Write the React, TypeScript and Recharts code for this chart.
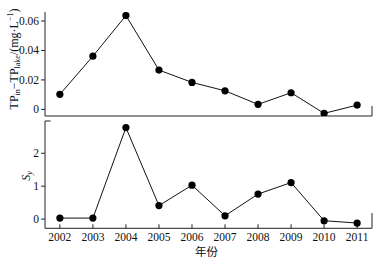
import React from 'react';
import { LineChart, Line, XAxis, YAxis, ReferenceLine } from 'recharts';

const years = [2002, 2003, 2004, 2005, 2006, 2007, 2008, 2009, 2010, 2011];
const tpDiff = [0.0102, 0.0361, 0.0637, 0.0267, 0.0183, 0.0126, 0.0034, 0.0113, -0.0027, 0.0029];
const sy = [0.03, 0.03, 2.78, 0.41, 1.03, 0.1, 0.76, 1.11, -0.05, -0.12];
const topTicks = [0, 0.02, 0.04, 0.06];
const bottomTicks = [0, 1, 2];
const xLabel = '年份';

const topData = years.map((y, i) => ({ year: y, v: tpDiff[i] }));
const bottomData = years.map((y, i) => ({ year: y, v: sy[i] }));

const FONT = '"Liberation Serif", "Times New Roman", serif';
const AX = '#222';
const xDomain: [number, number] = [2001.55, 2011.45];

const fmtTop = (v: number) => (v === 0 ? '0' : v.toFixed(2));

const YTick = (props: any) => {
  const { x, y, payload, fmt } = props;
  return (
    <text x={x} y={y} textAnchor="end" dominantBaseline="central" fontFamily={FONT} fontSize={11.5} fill="#111">
      {fmt ? fmt(payload.value) : String(payload.value)}
    </text>
  );
};

const XTick = (props: any) => {
  const { x, payload } = props;
  return (
    <text x={x} y={125} textAnchor="middle" fontFamily={FONT} fontSize={11.5} fill="#111">
      {String(payload.value)}
    </text>
  );
};

const TopLabel = () => (
  <text
    transform="translate(14,59) rotate(-90)"
    textAnchor="middle"
    dominantBaseline="central"
    fontFamily={FONT}
    fontSize={12}
    fill="#111"
  >
    TP<tspan dy={3} fontSize={8}>in</tspan>
    <tspan dy={-3}>−TP</tspan>
    <tspan dy={3} fontSize={8}>lake</tspan>
    <tspan dy={-3}>/(mg·L</tspan>
    <tspan dy={-4} fontSize={8}>−1</tspan>
    <tspan dy={4}>)</tspan>
  </text>
);

const BottomLabel = () => (
  <text
    transform="translate(26,60) rotate(-90)"
    textAnchor="middle"
    dominantBaseline="central"
    fontFamily={FONT}
    fontSize={12}
    fill="#111"
  >
    <tspan fontStyle="italic">S</tspan>
    <tspan dy={3} fontSize={8} fontStyle="italic">y</tspan>
  </text>
);

export default function App() {
  return (
    <div style={{ position: 'absolute', left: 0, top: 0, width: 382, height: 261, background: '#fff', fontFamily: FONT }}>
      <div style={{ position: 'absolute', left: 0, top: 0 }}>
        <LineChart width={382} height={120} data={topData} margin={{ top: 12, right: 10, left: 0, bottom: 0 }}>
          <XAxis
            dataKey="year"
            type="number"
            domain={xDomain}
            ticks={years}
            interval={0}
            allowDataOverflow
            height={4}
            tick={false}
            tickSize={-4}
            stroke={AX}
          />
          <YAxis
            type="number"
            domain={[-0.0045, 0.0661]}
            ticks={topTicks}
            interval={0}
            allowDataOverflow
            width={45}
            tickSize={4}
            tickMargin={2}
            stroke={AX}
            tick={<YTick fmt={fmtTop} />}
            label={<TopLabel />}
          />
          <ReferenceLine
            segment={[{ x: 2011.45, y: -0.0045 }, { x: 2011.45, y: 0.0023 }]}
            stroke={AX}
            ifOverflow="visible"
          />
          <Line
            dataKey="v"
            stroke="#111"
            strokeWidth={1}
            dot={{ r: 3.6, fill: '#000', stroke: '#000', strokeWidth: 0 }}
            isAnimationActive={false}
          />
        </LineChart>
      </div>
      <div style={{ position: 'absolute', left: 0, top: 116 }}>
        <LineChart width={382} height={145} data={bottomData} margin={{ top: 5, right: 10, left: 0, bottom: 4.7 }}>
          <XAxis
            dataKey="year"
            type="number"
            domain={xDomain}
            ticks={years}
            interval={0}
            allowDataOverflow
            height={28}
            tickSize={-4}
            tickMargin={8}
            stroke={AX}
            tick={<XTick />}
            label={{
              value: xLabel,
              position: 'insideBottom',
              offset: 0,
              dx: -2,
              style: { fontFamily: '"Noto Sans CJK SC", sans-serif', fontSize: 11.5, fill: '#111' },
            }}
          />
          <YAxis
            type="number"
            domain={[-0.28, 2.98]}
            ticks={bottomTicks}
            interval={0}
            allowDataOverflow
            width={45}
            tickSize={4}
            tickMargin={2}
            stroke={AX}
            tick={<YTick />}
            label={<BottomLabel />}
          />
          <ReferenceLine
            segment={[{ x: 2011.45, y: -0.28 }, { x: 2011.45, y: 0.18 }]}
            stroke={AX}
            ifOverflow="visible"
          />
          <ReferenceLine
            segment={[{ x: 2001.55, y: 2.98 }, { x: 2001.72, y: 2.98 }]}
            stroke={AX}
            ifOverflow="visible"
          />
          <Line
            dataKey="v"
            stroke="#111"
            strokeWidth={1}
            dot={{ r: 3.6, fill: '#000', stroke: '#000', strokeWidth: 0 }}
            isAnimationActive={false}
          />
        </LineChart>
      </div>
    </div>
  );
}
